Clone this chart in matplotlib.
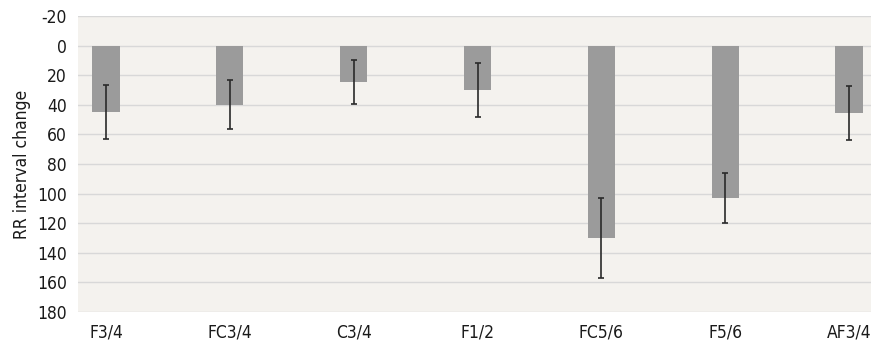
import numpy as np
import matplotlib.pyplot as plt

# --- data ---
regions = ['F3/4', 'FC3/4', 'C3/4', 'F1/2', 'FC5/6', 'F5/6', 'AF3/4']
rr_change = [45, 40, 24.7, 30, 130, 103, 45.5]
rr_err = [18.3, 16.5, 15, 18.5, 27, 17, 18.5]

plt.rcParams['axes.unicode_minus'] = False
bg = '#f4f2ee'
fig = plt.figure(figsize=(8.71, 3.41), dpi=100)
ax = fig.add_axes([78 / 871, 29 / 341, 1 - 78 / 871, 296 / 341])
ax.set_facecolor(bg)

x = np.arange(len(regions))
ax.bar(x, rr_change, width=0.22, color='#9b9b9b', zorder=2)
ax.errorbar(x, rr_change, yerr=rr_err, fmt='none', ecolor='#2a2a2a',
            elinewidth=1.2, capsize=2, capthick=1.2, zorder=3)

ax.set_ylim(180, -20)
ax.set_yticks(np.arange(-20, 181, 20))
ax.set_xlim(-0.226, 6.177)
ax.set_xticks(x)
ax.set_xticklabels(regions)
ax.grid(axis='y', color='#d8d8d8', linewidth=1.0, zorder=0)
for s in ax.spines.values():
    s.set_visible(False)
ax.tick_params(length=0, labelsize=12.5, pad=8, colors='#1a1a1a')
for lab in ax.get_xticklabels() + ax.get_yticklabels():
    lab.set_fontstretch('condensed')
ax.set_ylabel('RR interval change', fontsize=12.5, fontstretch='condensed',
              color='#1a1a1a', labelpad=4)

fig.savefig('out.png', dpi=100)
